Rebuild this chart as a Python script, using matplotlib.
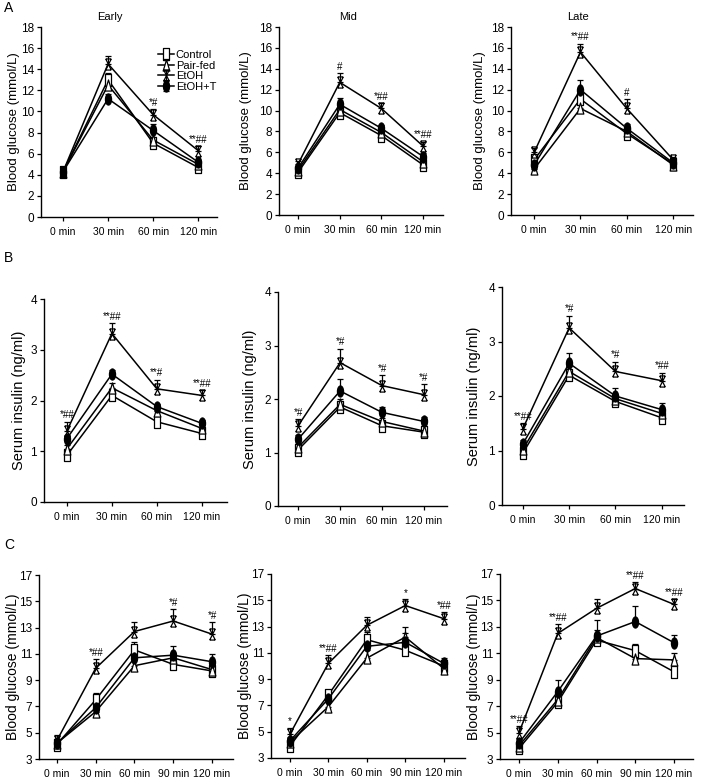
import matplotlib
matplotlib.use("Agg")
import matplotlib.pyplot as plt
import numpy as np
from matplotlib.path import Path
from matplotlib.transforms import Affine2D
from matplotlib import font_manager as fm

avail = {f.name for f in fm.fontManager.ttflist}
narrow = 'Liberation Sans Narrow' if 'Liberation Sans Narrow' in avail else 'Liberation Sans'
plt.rcParams['font.family'] = [narrow, 'DejaVu Sans']

# ---------------- data ----------------
series = ["Control", "Pair-fed", "EtOH", "EtOH+T"]
times4 = ["0 min", "30 min", "60 min", "120 min"]
times5 = ["0 min", "30 min", "60 min", "90 min", "120 min"]

# Panel A: blood glucose (mmol/L)
a_early = {"Control": [4.3, 13.0, 7.0, 4.7], "Pair-fed": [4.3, 12.5, 7.3, 5.0],
           "EtOH": [4.3, 14.5, 9.7, 6.3], "EtOH+T": [4.3, 11.2, 8.2, 5.2]}
a_early_err = {"Control": [0.2, 0.6, 0.3, 0.2], "Pair-fed": [0.2, 0.6, 0.3, 0.2],
               "EtOH": [0.2, 0.8, 0.5, 0.4], "EtOH+T": [0.2, 0.5, 0.6, 0.2]}
a_mid = {"Control": [4.1, 9.8, 7.6, 4.8], "Pair-fed": [4.3, 10.1, 7.9, 5.1],
         "EtOH": [4.9, 12.7, 10.2, 6.6], "EtOH+T": [4.5, 10.6, 8.3, 5.6]}
a_mid_err = {"Control": [0.2, 0.4, 0.3, 0.2], "Pair-fed": [0.2, 0.4, 0.3, 0.2],
             "EtOH": [0.3, 0.9, 0.5, 0.4], "EtOH+T": [0.2, 0.6, 0.3, 0.3]}
a_late = {"Control": [5.3, 11.1, 7.8, 4.9], "Pair-fed": [4.4, 10.2, 8.0, 4.8],
          "EtOH": [6.0, 15.6, 10.2, 5.3], "EtOH+T": [4.8, 12.0, 8.3, 5.0]}
a_late_err = {"Control": [0.3, 0.6, 0.3, 0.2], "Pair-fed": [0.2, 0.5, 0.3, 0.2],
              "EtOH": [0.4, 0.8, 0.9, 0.3], "EtOH+T": [0.3, 0.9, 0.4, 0.2]}
a_early_sig = ["", "", "*#", "**##"]
a_mid_sig = ["", "#", "*##", "**##"]
a_late_sig = ["", "**##", "#", ""]

# Panel B: serum insulin (ng/ml)
b_early = {"Control": [0.92, 2.10, 1.58, 1.35], "Pair-fed": [1.05, 2.25, 1.80, 1.45],
           "EtOH": [1.40, 3.32, 2.23, 2.10], "EtOH+T": [1.25, 2.52, 1.88, 1.55]}
b_early_err = {"Control": [0.08, 0.08, 0.08, 0.06], "Pair-fed": [0.08, 0.10, 0.08, 0.06],
               "EtOH": [0.18, 0.20, 0.18, 0.10], "EtOH+T": [0.08, 0.08, 0.06, 0.06]}
b_mid = {"Control": [1.05, 1.85, 1.50, 1.38], "Pair-fed": [1.10, 1.90, 1.58, 1.40],
         "EtOH": [1.50, 2.68, 2.25, 2.08], "EtOH+T": [1.25, 2.15, 1.75, 1.58]}
b_mid_err = {"Control": [0.06, 0.10, 0.06, 0.06], "Pair-fed": [0.06, 0.10, 0.06, 0.06],
             "EtOH": [0.12, 0.26, 0.20, 0.20], "EtOH+T": [0.08, 0.22, 0.10, 0.08]}
b_late = {"Control": [0.95, 2.38, 1.90, 1.60], "Pair-fed": [1.02, 2.45, 1.95, 1.68],
          "EtOH": [1.40, 3.25, 2.45, 2.28], "EtOH+T": [1.12, 2.60, 2.00, 1.75]}
b_late_err = {"Control": [0.06, 0.08, 0.08, 0.06], "Pair-fed": [0.06, 0.10, 0.08, 0.06],
              "EtOH": [0.10, 0.22, 0.18, 0.15], "EtOH+T": [0.08, 0.18, 0.15, 0.12]}
b_early_sig = ["*##", "**##", "**#", "**##"]
b_mid_sig = ["*#", "*#", "*#", "*#"]
b_late_sig = ["**##", "*#", "*#", "*##"]

# Panel C: blood glucose (mmol/L), five time points
c_early = {"Control": [4.1, 7.5, 11.3, 10.2, 9.7], "Pair-fed": [4.2, 6.6, 10.1, 10.7, 9.8],
           "EtOH": [4.4, 9.9, 12.7, 13.5, 12.5], "EtOH+T": [4.2, 6.9, 10.7, 10.9, 10.4]}
c_early_err = {"Control": [0.3, 0.5, 0.6, 0.3, 0.3], "Pair-fed": [0.3, 0.4, 0.5, 0.4, 0.4],
               "EtOH": [0.4, 0.7, 0.7, 0.9, 0.9], "EtOH+T": [0.3, 0.5, 0.6, 0.7, 0.6]}
c_mid = {"Control": [3.9, 7.8, 12.0, 11.2, 10.0], "Pair-fed": [4.2, 6.9, 10.6, 12.2, 9.8],
         "EtOH": [4.8, 10.2, 13.1, 14.6, 13.6], "EtOH+T": [4.3, 7.5, 11.5, 11.8, 10.2]}
c_mid_err = {"Control": [0.3, 0.4, 0.6, 0.5, 0.3], "Pair-fed": [0.3, 0.5, 0.6, 0.8, 0.4],
             "EtOH": [0.5, 0.6, 0.6, 0.5, 0.5], "EtOH+T": [0.3, 0.5, 0.6, 0.7, 0.4]}
c_late = {"Control": [3.8, 7.3, 12.0, 11.2, 9.6], "Pair-fed": [4.0, 7.5, 12.2, 10.6, 10.5],
          "EtOH": [5.0, 12.5, 14.4, 15.9, 14.7], "EtOH+T": [4.2, 8.1, 12.3, 13.4, 11.8]}
c_late_err = {"Control": [0.3, 0.4, 0.5, 0.5, 0.4], "Pair-fed": [0.3, 0.4, 0.6, 0.5, 0.5],
              "EtOH": [0.5, 0.7, 0.7, 0.5, 0.4], "EtOH+T": [0.3, 0.9, 1.2, 1.2, 0.6]}
c_early_sig = ["", "*##", "", "*#", "*#"]
c_mid_sig = ["*", "**##", "", "*", "*##"]
c_late_sig = ["**##", "**##", "", "**##", "**##"]

# ---------------- markers (tall, as in the stretched original) ----------------
sq = Path([(-0.55, -1), (0.55, -1), (0.55, 1), (-0.55, 1), (-0.55, -1)],
          [Path.MOVETO, Path.LINETO, Path.LINETO, Path.LINETO, Path.CLOSEPOLY])
tri = Path([(0, 1), (-0.6, -1), (0.6, -1), (0, 1)],
           [Path.MOVETO, Path.LINETO, Path.LINETO, Path.CLOSEPOLY])
xm = Path([(-0.5, 1), (0.5, 1), (-0.5, 1), (0.5, -1), (0.5, 1), (-0.5, -1), (-0.5, -1), (0.5, -1)],
          [Path.MOVETO, Path.LINETO, Path.MOVETO, Path.LINETO, Path.MOVETO, Path.LINETO,
           Path.MOVETO, Path.LINETO])
ell = Affine2D().scale(0.55, 1.0).transform_path(Path.unit_circle())
style = {"Control": dict(marker=sq, mfc="white", ms=8),
         "Pair-fed": dict(marker=tri, mfc="white", ms=8),
         "EtOH": dict(marker=xm, mfc="none", ms=8),
         "EtOH+T": dict(marker=ell, mfc="black", ms=8)}

W, H = 701, 781
fig = plt.figure(figsize=(W / 100, H / 100), dpi=100)


def make_ax(l, r, t, b):
    return fig.add_axes([l / W, 1 - b / H, (r - l) / W, (b - t) / H])


def draw(ax, data, err, sig, labels, ylim, yticks, xl, xr, sig_fs=7):
    x = np.arange(len(labels))
    for s in series:
        y = np.array(data[s])
        e = np.array(err[s])
        ax.errorbar(x, y, yerr=[np.zeros_like(e), e], color="black", lw=1.1,
                    elinewidth=0.9, capsize=2.5, capthick=0.9, mec="black",
                    mew=0.9, label=s, **style[s])
    for i, t in enumerate(sig):
        if t:
            ax.annotate(t, (x[i], data["EtOH"][i] + err["EtOH"][i]), xytext=(0, 1),
                        textcoords="offset points", ha="center", va="bottom",
                        fontsize=sig_fs)
    ax.set_xlim(xl, len(labels) - 1 + xr)
    ax.set_ylim(*ylim)
    ax.set_yticks(yticks)
    ax.set_xticks(x)
    ax.set_xticklabels(labels, fontsize=7.5)
    ax.tick_params(axis="y", labelsize=8.5, direction="out", length=3, width=0.9, pad=2)
    ax.tick_params(axis="x", direction="out", length=3, width=0.9, pad=4)
    for sp in ["top", "right"]:
        ax.spines[sp].set_visible(False)
    for sp in ["left", "bottom"]:
        ax.spines[sp].set_linewidth(1.0)


def ylab(x, t, b, text, fs):
    fig.text(x / W, 1 - (t + b) / 2 / H, text, rotation=90, ha="center", va="center",
             fontsize=fs, family=["Liberation Sans", "DejaVu Sans"])


# Row A
gA = (0, 18)
tA = list(range(0, 19, 2))
ax = make_ax(41, 217, 27, 217)
draw(ax, a_early, a_early_err, a_early_sig, times4, gA, tA, -0.49, 0.42)
ax.legend(loc="upper left", bbox_to_anchor=(158 / W, 1 - 50 / H), bbox_transform=fig.transFigure,
          frameon=False, fontsize=8, handlelength=1.4, handletextpad=0.2, labelspacing=0.05,
          borderaxespad=0, borderpad=0)
ylab(14, 27, 217, "Blood glucose (mmol/L)", 9.5)
ax = make_ax(279, 443, 27, 215)
draw(ax, a_mid, a_mid_err, a_mid_sig, times4, gA, tA, -0.46, 0.48)
ylab(246, 27, 215, "Blood glucose (mmol/L)", 9.5)
ax = make_ax(511, 693, 27, 215)
draw(ax, a_late, a_late_err, a_late_sig, times4, gA, tA, -0.5, 0.43)
ylab(480, 27, 215, "Blood glucose (mmol/L)", 9.5)

fig.text(110 / W, 1 - 17 / H, "Early", ha="center", va="center", fontsize=8)
fig.text(348 / W, 1 - 17 / H, "Mid", ha="center", va="center", fontsize=8)
fig.text(578 / W, 1 - 17 / H, "Late", ha="center", va="center", fontsize=8)

# Row B
gB = (0, 4)
tB = [0, 1, 2, 3, 4]
ax = make_ax(44, 227, 299, 502)
draw(ax, b_early, b_early_err, b_early_sig, times4, gB, tB, -0.51, 0.56)
ylab(19, 299, 502, "Serum insulin (ng/ml)", 10.5)
ax = make_ax(278, 447, 292, 506)
draw(ax, b_mid, b_mid_err, b_mid_sig, times4, gB, tB, -0.48, 0.55)
ylab(250, 292, 506, "Serum insulin (ng/ml)", 10.5)
ax = make_ax(502, 684, 287, 505)
draw(ax, b_late, b_late_err, b_late_sig, times4, gB, tB, -0.45, 0.48)
ylab(474, 287, 505, "Serum insulin (ng/ml)", 10.5)

# Row C
gC = (3, 17)
tC = list(range(3, 18, 2))
ax = make_ax(39, 233, 575, 759)
draw(ax, c_early, c_early_err, c_early_sig, times5, gC, tC, -0.46, 0.54)
ylab(13, 575, 759, "Blood glucose (mmol/L)", 10)
ax = make_ax(271, 465, 574, 758)
draw(ax, c_mid, c_mid_err, c_mid_sig, times5, gC, tC, -0.49, 0.55)
ylab(245, 574, 758, "Blood glucose (mmol/L)", 10)
ax = make_ax(500, 693, 574, 759)
draw(ax, c_late, c_late_err, c_late_sig, times5, gC, tC, -0.49, 0.49)
ylab(474, 574, 759, "Blood glucose (mmol/L)", 10)

for lab, y in [("A", 8), ("B", 258), ("C", 545)]:
    fig.text(4 / W, 1 - y / H, lab, ha="left", va="center", fontsize=10,
             family=["Liberation Sans", "DejaVu Sans"])

fig.savefig("out.png", dpi=100)
